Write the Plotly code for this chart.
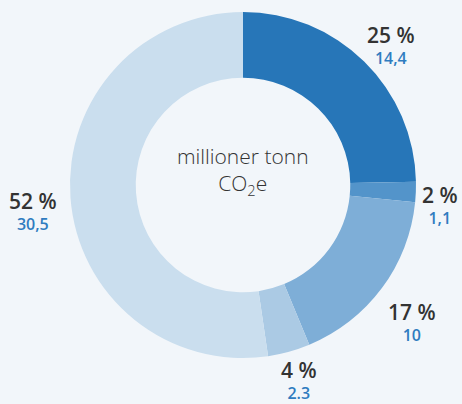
import math
import plotly.graph_objects as go

# Emissions by source, million tonnes CO2e
values = [14.4, 1.1, 10, 2.3, 30.5]
value_labels = ["14,4", "1,1", "10", "2.3", "30,5"]
colors = ["#2776b8", "#5394ca", "#7eaed7", "#abcae4", "#cadeee"]

W, H = 462, 404
CX, CY, R = 243, 185, 173  # pie centre and outer radius in px
LABEL_R = 211

fig = go.Figure()
fig.add_trace(go.Pie(
    values=values,
    sort=False,
    direction="clockwise",
    rotation=0,
    hole=0.62,
    marker=dict(colors=colors, line=dict(width=0)),
    textinfo="none",
    hoverinfo="skip",
    showlegend=False,
    domain=dict(x=[(CX - R) / W, (CX + R) / W],
                y=[1 - (CY + R) / H, 1 - (CY - R) / H]),
))

total = sum(values)
cum = 0.0
annotations = []
for v, lab in zip(values, value_labels):
    mid = (cum + v / 2) / total * 2 * math.pi
    cum += v
    px = CX + LABEL_R * math.sin(mid)
    py = CY - LABEL_R * math.cos(mid)
    # keep labels inside the canvas
    px = max(24, min(px, W - 22))
    py = min(py, H - 35)
    pct = round(v / total * 100)
    # percentage on top, absolute value underneath
    annotations.append(dict(
        x=px / W, y=1 - (py + 11) / H, xref="paper", yref="paper",
        text=(f"<span style='font-size:21px;color:#333333'>{pct} %</span>"
              f"<br>{lab}"),
        showarrow=False,
        font=dict(family="Open Sans", size=16, color="#2f7cc0", weight=600),
        xanchor="center", yanchor="middle"))

annotations.append(dict(
    x=CX / W, y=1 - 171 / H, xref="paper", yref="paper",
    text="millioner tonn<br>CO<sub>2</sub>e", showarrow=False,
    font=dict(family="Open Sans", size=21, color="#333333", weight=300),
    xanchor="center", yanchor="middle"))

fig.update_layout(
    width=W, height=H,
    margin=dict(l=0, r=0, t=0, b=0),
    paper_bgcolor="#f2f6fa",
    plot_bgcolor="#f2f6fa",
    annotations=annotations,
)

fig.write_html("out.html")
